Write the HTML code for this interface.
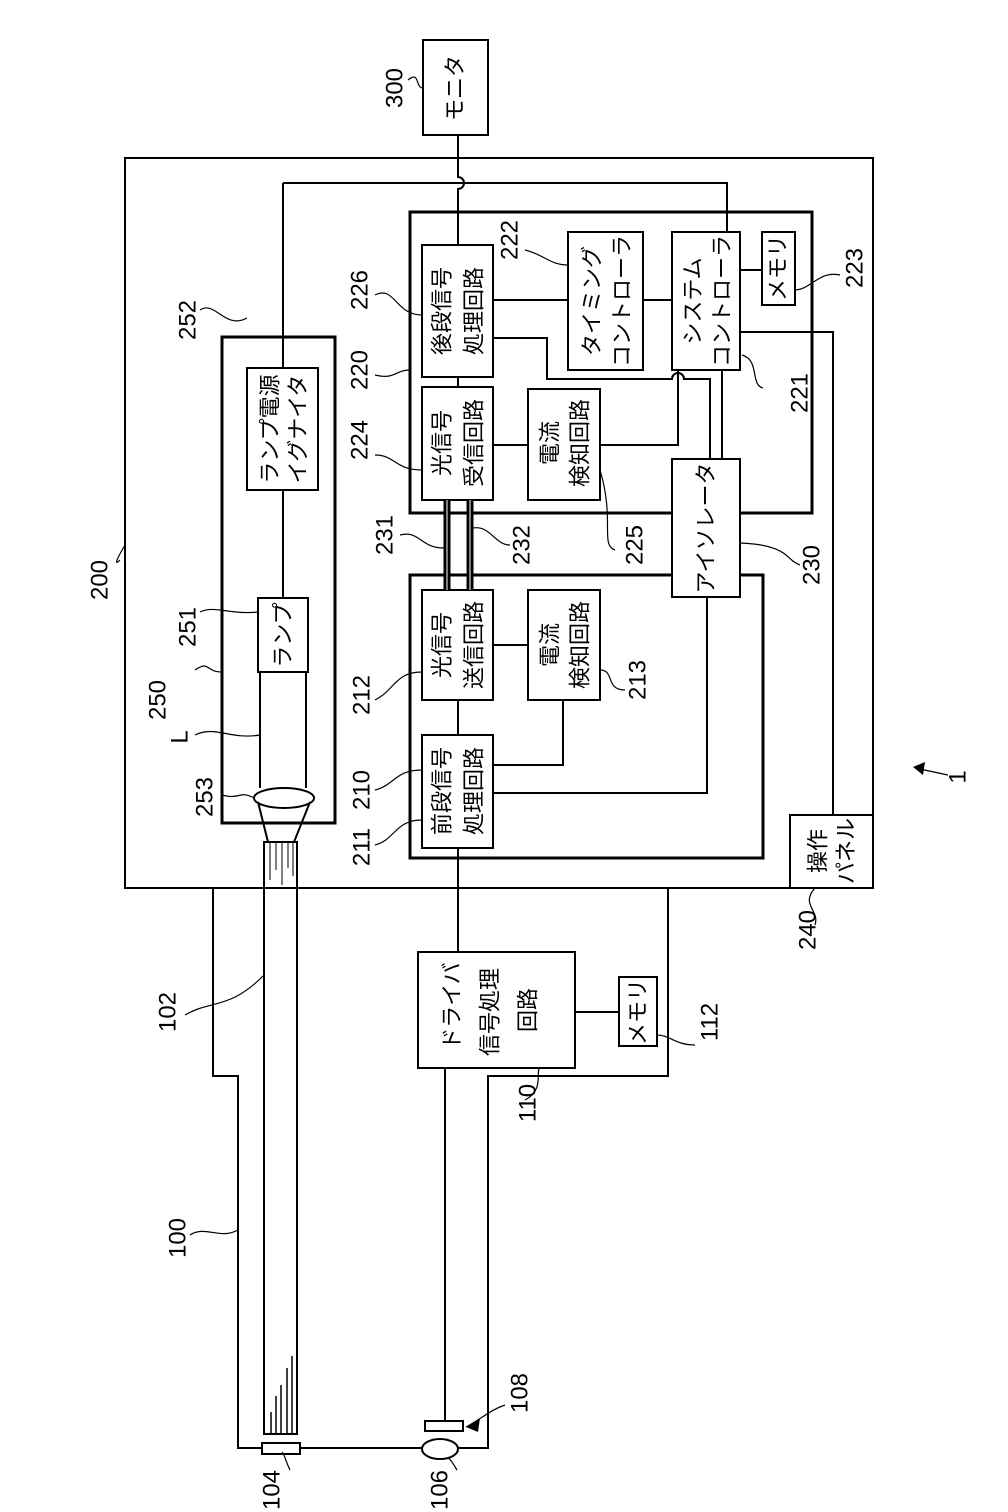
<!DOCTYPE html>
<html><head><meta charset="utf-8"><style>
html,body{margin:0;padding:0;background:#fff}
svg{display:block}
text{font-family:"Liberation Sans","Noto Sans CJK JP",sans-serif;fill:#000}
.j{font-size:22px}
.n{font-size:24px}
</style></head><body>
<svg width="1008" height="1512" viewBox="0 0 1008 1512" xmlns="http://www.w3.org/2000/svg">
<g fill="none" stroke="#000" stroke-width="2">
<rect x="423" y="40" width="65" height="95"/>
<path d="M458 135 V177 A6 6 0 0 1 458 189 V212"/>
<rect x="125" y="158" width="748" height="730"/>
<rect x="790" y="815" width="83" height="73"/>
<path d="M213 888 V1076 H238 V1448 H488 V1076 H668 V888"/>
<path d="M283 183 H727 V232"/>
<rect x="222" y="337" width="113" height="486" stroke-width="3"/>
<rect x="247" y="368" width="71" height="122"/>
<rect x="258" y="598" width="50" height="74"/>
<path d="M283 183 V368 M283 490 V598 M260 672 V788 M306 672 V788"/>
<ellipse cx="284" cy="798" rx="30" ry="10"/>
<path d="M258 802 L268 842 M310 802 L294 842"/>
<path d="M264 842 V1434 H297 V842 Z"/>
<path d="M270 842 V880 M276 842 V870 M282 842 V885 M288 842 V868 M293 842 V876" stroke-width="1"/>
<path d="M271 1434 V1412 M276 1434 V1396 M281 1434 V1385 M287 1434 V1368 M292 1434 V1356" stroke-width="1.5"/>
<rect x="262" y="1443" width="38" height="11" fill="#fff"/>
<ellipse cx="440" cy="1449" rx="18" ry="10" fill="#fff"/>
<rect x="425" y="1421" width="38" height="10"/>
<path d="M445 1068 V1421"/>
<rect x="410" y="212" width="402" height="301" stroke-width="3"/>
<rect x="422" y="245" width="71" height="132"/>
<rect x="568" y="232" width="75" height="138"/>
<rect x="672" y="232" width="68" height="138"/>
<rect x="762" y="232" width="33" height="73"/>
<rect x="422" y="387" width="71" height="113"/>
<rect x="528" y="389" width="72" height="111"/>
<path d="M458 212 V245 M458 377 V387 M493 300 H568 M643 300 H672 M740 270 H762"/>
<path d="M493 338 H547 V379 H672 A6 6 0 0 1 684 379 H710 V459"/>
<path d="M678 370 V445 H600 M493 445 H528 M722 370 V459"/>
<path d="M740 332 H833 V815"/>
<rect x="410" y="575" width="353" height="283" stroke-width="3"/>
<rect x="422" y="590" width="71" height="110"/>
<rect x="528" y="590" width="72" height="110"/>
<rect x="422" y="735" width="71" height="113"/>
<path d="M458 700 V735 M493 645 H528 M563 700 V765 H493 M493 793 H707 V597 M458 848 V952"/>
<rect x="672" y="459" width="68" height="138" fill="#fff"/>
<path d="M447 500 V590 M470 500 V590" stroke-width="7"/>
<path d="M447 500 V590 M470 500 V590" stroke="#fff" stroke-width="1"/>
<rect x="418" y="952" width="157" height="116"/>
<rect x="619" y="977" width="38" height="69"/>
<path d="M575 1012 H619"/>
<g stroke-width="1.2">
<path d="M408 80 C420 70 415 88 423 88"/>
<path d="M120 560 C110 570 125 545 125 545"/>
<path d="M195 670 C210 660 205 672 222 672"/>
<path d="M200 612 C215 605 230 615 258 612"/>
<path d="M195 735 C215 725 230 740 260 735"/>
<path d="M222 795 C240 800 240 790 254 798"/>
<path d="M200 310 C215 300 225 330 247 318"/>
<path d="M375 295 C395 285 395 315 422 315"/>
<path d="M375 375 C395 380 395 370 410 370"/>
<path d="M375 455 C395 455 395 470 422 470"/>
<path d="M400 535 C420 530 420 548 444 548"/>
<path d="M510 545 C495 545 490 525 473 528"/>
<path d="M615 550 C600 545 615 520 600 470"/>
<path d="M800 565 C785 560 790 545 740 543"/>
<path d="M525 250 C545 255 550 265 568 265"/>
<path d="M840 275 C820 270 810 290 795 290"/>
<path d="M763 388 C750 385 760 360 742 355"/>
<path d="M375 700 C395 690 395 672 422 672"/>
<path d="M625 690 C605 690 615 670 600 670"/>
<path d="M375 790 C395 785 395 770 422 770"/>
<path d="M375 845 C395 840 395 820 422 820"/>
<path d="M815 925 C820 910 800 905 815 888"/>
<path d="M185 1015 C210 1000 230 1010 264 975"/>
<path d="M695 1045 C675 1045 670 1035 657 1035"/>
<path d="M525 1100 C545 1090 535 1070 540 1068"/>
<path d="M190 1235 C205 1225 220 1240 238 1230"/>
<path d="M505 1405 C490 1410 480 1420 466 1427"/>
<path d="M290 1470 C285 1460 285 1455 282 1452"/>
<path d="M457 1470 C452 1462 450 1458 447 1458"/>
<path d="M948 775 L915 768"/>
</g>
<path d="M466 1427 L480 1418 L478 1432 Z M913 767 L925 762 L923 775 Z" fill="#000" stroke="none"/>
</g>
<g text-anchor="middle" dominant-baseline="central">
<text class="j" transform="translate(455,88) rotate(-90)">モニタ</text>
<text class="j" transform="translate(270,429) rotate(-90)">ランプ電源</text>
<text class="j" transform="translate(298,429) rotate(-90)">イグナイタ</text>
<text class="j" transform="translate(283,635) rotate(-90)">ランプ</text>
<text class="j" transform="translate(442,311) rotate(-90)">後段信号</text>
<text class="j" transform="translate(474,311) rotate(-90)">処理回路</text>
<text class="j" transform="translate(592,301) rotate(-90)">タイミング</text>
<text class="j" transform="translate(622,301) rotate(-90)">コントローラ</text>
<text class="j" transform="translate(693,301) rotate(-90)">システム</text>
<text class="j" transform="translate(722,301) rotate(-90)">コントローラ</text>
<text class="j" transform="translate(778,268) rotate(-90)">メモリ</text>
<text class="j" transform="translate(442,443) rotate(-90)">光信号</text>
<text class="j" transform="translate(474,443) rotate(-90)">受信回路</text>
<text class="j" transform="translate(550,443) rotate(-90)">電流</text>
<text class="j" transform="translate(580,443) rotate(-90)">検知回路</text>
<text class="j" transform="translate(706,528) rotate(-90)">アイソレータ</text>
<text class="j" transform="translate(442,645) rotate(-90)">光信号</text>
<text class="j" transform="translate(474,645) rotate(-90)">送信回路</text>
<text class="j" transform="translate(550,645) rotate(-90)">電流</text>
<text class="j" transform="translate(580,645) rotate(-90)">検知回路</text>
<text class="j" transform="translate(442,791) rotate(-90)">前段信号</text>
<text class="j" transform="translate(474,791) rotate(-90)">処理回路</text>
<text class="j" transform="translate(818,851) rotate(-90)">操作</text>
<text class="j" transform="translate(846,851) rotate(-90)">パネル</text>
<text class="j" transform="translate(452,1006) rotate(-90)">ドライバ</text>
<text class="j" transform="translate(490,1012) rotate(-90)">信号処理</text>
<text class="j" transform="translate(528,1010) rotate(-90)">回路</text>
<text class="j" transform="translate(638,1012) rotate(-90)">メモリ</text>
<text class="n" transform="translate(395,88) rotate(-90)">300</text>
<text class="n" transform="translate(100,580) rotate(-90)">200</text>
<text class="n" transform="translate(158,700) rotate(-90)">250</text>
<text class="n" transform="translate(188,627) rotate(-90)">251</text>
<text class="n" transform="translate(180,737) rotate(-90)">L</text>
<text class="n" transform="translate(205,797) rotate(-90)">253</text>
<text class="n" transform="translate(188,320) rotate(-90)">252</text>
<text class="n" transform="translate(360,290) rotate(-90)">226</text>
<text class="n" transform="translate(360,370) rotate(-90)">220</text>
<text class="n" transform="translate(360,440) rotate(-90)">224</text>
<text class="n" transform="translate(385,535) rotate(-90)">231</text>
<text class="n" transform="translate(522,545) rotate(-90)">232</text>
<text class="n" transform="translate(635,545) rotate(-90)">225</text>
<text class="n" transform="translate(812,565) rotate(-90)">230</text>
<text class="n" transform="translate(510,240) rotate(-90)">222</text>
<text class="n" transform="translate(855,268) rotate(-90)">223</text>
<text class="n" transform="translate(800,393) rotate(-90)">221</text>
<text class="n" transform="translate(362,695) rotate(-90)">212</text>
<text class="n" transform="translate(638,680) rotate(-90)">213</text>
<text class="n" transform="translate(362,790) rotate(-90)">210</text>
<text class="n" transform="translate(362,847) rotate(-90)">211</text>
<text class="n" transform="translate(808,930) rotate(-90)">240</text>
<text class="n" transform="translate(168,1012) rotate(-90)">102</text>
<text class="n" transform="translate(710,1022) rotate(-90)">112</text>
<text class="n" transform="translate(528,1103) rotate(-90)">110</text>
<text class="n" transform="translate(178,1238) rotate(-90)">100</text>
<text class="n" transform="translate(520,1393) rotate(-90)">108</text>
<text class="n" transform="translate(272,1490) rotate(-90)">104</text>
<text class="n" transform="translate(440,1490) rotate(-90)">106</text>
<text class="n" transform="translate(958,777) rotate(-90)">1</text>
</g>
</svg>
</body></html>
